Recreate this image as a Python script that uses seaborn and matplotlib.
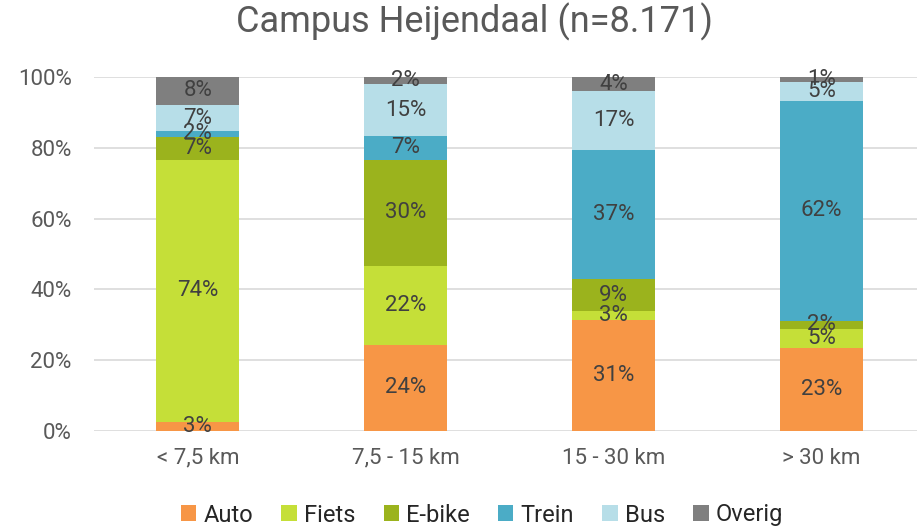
import numpy as np
import pandas as pd
import matplotlib
matplotlib.use("Agg")
import matplotlib.pyplot as plt
import seaborn as sns
from matplotlib.patches import Patch

# data (percent of trips per distance class)
categories = ["< 7,5 km", "7,5 - 15 km", "15 - 30 km", "> 30 km"]
modes = ["Auto", "Fiets", "E-bike", "Trein", "Bus", "Overig"]
auto = [2.5, 24.3, 31.4, 23.4]
fiets = [74.1, 22.3, 2.5, 5.4]
ebike = [6.5, 30.0, 9.0, 2.3]
trein = [1.6, 6.7, 36.5, 62.1]
bus = [7.4, 14.7, 16.6, 5.4]
overig = [7.9, 2.0, 4.0, 1.4]
colors = ["#F79646", "#C5DF38", "#9BB31D", "#4BACC6", "#B7DEE8", "#7F7F7F"]

sns.set_theme(style="white")
plt.rcParams["font.family"] = ["Roboto", "DejaVu Sans"]

series = [auto, fiets, ebike, trein, bus, overig]
df = pd.DataFrame(dict(zip(modes, series)), index=categories)
cum = df.cumsum(axis=1)

fig = plt.figure(figsize=(9.17, 5.29), dpi=100)
ax = fig.add_axes([94 / 917, 1 - 431 / 529, 1 - 94 / 917, (431 - 77) / 529])

# stacked bars: draw cumulative totals from the top layer down
for i in range(len(modes) - 1, -1, -1):
    d = pd.DataFrame({"cat": categories, "val": cum[modes[i]].values})
    sns.barplot(data=d, x="cat", y="val", color=colors[i], width=0.4,
                saturation=1, linewidth=0, ax=ax, zorder=3)

for i, m in enumerate(modes):
    bottoms = cum[m].values - df[m].values
    for j, v in enumerate(df[m].values):
        ax.text(j, bottoms[j] + v / 2, "{:.0f}%".format(round(v + 1e-9)),
                ha="center", va="center", fontsize=16, color="#404040", zorder=4)

ax.set_ylim(0, 100)
ax.set_xlim(-0.5, 3.46)
ax.set_yticks(range(0, 101, 20))
ax.set_yticklabels(["{}%".format(t) for t in range(0, 101, 20)])
ax.yaxis.grid(True, color="#D9D9D9", linewidth=1.2, zorder=0)
ax.set_axisbelow(True)
for s in ax.spines.values():
    s.set_visible(False)
ax.set_xlabel("")
ax.set_ylabel("")
ax.tick_params(axis="y", length=0, pad=16, labelsize=16, labelcolor="#595959")
ax.tick_params(axis="x", length=0, pad=12, labelsize=16, labelcolor="#595959")

fig.text(475 / 917, 1 - 22 / 529, "Campus Heijendaal (n=8.171)", ha="center",
         va="center", fontsize=26, color="#595959")

handles = [Patch(facecolor=c, edgecolor="none") for c in colors]
fig.legend(handles, modes, loc="center", bbox_to_anchor=(482 / 917, 1 - 515 / 529),
           ncol=6, frameon=False, fontsize=17, handlelength=0.65, handleheight=0.65,
           handletextpad=0.3, columnspacing=1.2)

fig.savefig("out.png", dpi=100)
